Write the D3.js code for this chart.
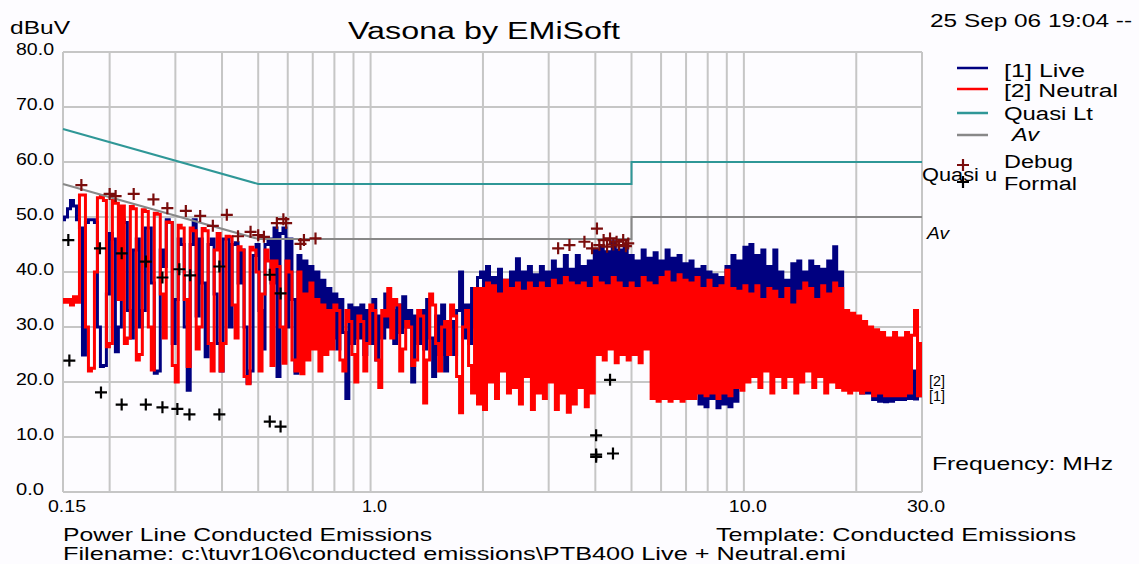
<!DOCTYPE html>
<html>
<head>
<meta charset="utf-8">
<title>Vasona by EMiSoft</title>
<script src="https://d3js.org/d3.v7.min.js"></script>
<style>
    body { margin: 0; background: #fdfcff; }
    svg { display: block; }
    text { font-family: "Liberation Sans", Arial, sans-serif; fill: #000; }
    .grid line { stroke: #c6c6c6; stroke-width: 2; }
    .trace { fill: none; stroke-width: 3; stroke-linejoin: miter; }
    .limit { fill: none; stroke-width: 2; }
    .mark { fill: none; stroke-width: 2.2; }
</style>
</head>
<body>
<div id="chart"></div>
<script>
    // sweep columns, one reading per screen column from 0.15 to 30 MHz
    var N = 288;
    var freqs = d3.range(N).map(i => 0.15 * Math.pow(200, i / (N - 1)));

    // [1] Live, dBuV per column
    var live = [
        49.5, 50, 51.5, 53, 52, 49.5, 48, 24.9, 49, 49.5,
        49.5, 49, 30, 22.8, 23, 36, 47, 46, 25.5, 30,
        49.5, 49, 33, 28, 44, 46, 30, 33, 48, 48,
        38, 21.6, 22, 44, 41, 49.5, 49, 27, 35, 46,
        45, 30, 18.5, 45, 49.5, 32, 46, 38, 24.6, 45,
        46, 36, 27, 22, 46, 46, 30, 45, 45.3, 38,
        44, 30, 19.8, 22, 43, 45, 33, 26, 45, 46,
        38, 48, 21, 47, 48, 30, 46, 35, 21.6, 43,
        30, 42, 29, 41, 28, 40, 30, 38.5, 27.6, 37,
        28, 36, 26, 35, 29, 17, 34, 27, 33.5, 28,
        34, 25, 33, 27, 35, 24, 32, 28, 36, 30,
        33, 27, 34, 29, 35.5, 30, 33, 20, 32, 27,
        33, 26, 35, 28, 21, 32, 25, 34, 22, 30,
        31, 25, 33, 40, 28, 34, 27, 37, 30, 39,
        40, 30, 41, 28, 39, 31, 40.5, 29, 38.5, 30,
        40, 29, 42.4, 31, 40, 28, 41, 30, 39.5, 29,
        41, 30, 40, 28, 42, 31, 40.5, 29, 43, 30,
        40.5, 29, 43, 31, 41, 30, 42, 29, 44, 32,
        44.5, 33, 43.7, 31, 45.5, 32, 44, 33, 45, 31,
        43, 32, 42, 30, 44, 31, 42.5, 29, 43.5, 30,
        42, 30, 44, 31, 42.5, 29, 43, 30, 41.5, 31,
        42, 30, 40.5, 16, 41, 15.5, 40, 17, 39.5, 15.3,
        39, 16, 41, 15.5, 43, 16.5, 42, 29, 44.5, 30,
        45, 31, 43, 30, 44, 29, 41, 31, 44, 30,
        40, 29, 38.5, 30, 41.5, 29, 42, 31, 40, 30,
        42, 30, 41, 29, 40.5, 31, 42, 30, 44.6, 31,
        40, 24, 30, 20, 29, 19, 28, 18, 29, 18,
        25, 16.8, 24, 16.5, 23, 16.4, 24, 16.5, 22, 16.8,
        24, 16.8, 23, 17, 22, 16.9, 17.5, 17.5
    ];

    // [2] Neutral, dBuV per column
    var neutral = [
        35, 34.5, 35, 34, 35.5, 34.5, 54, 54, 30, 22,
        22.5, 40, 53.5, 53.8, 53, 26.4, 27, 53, 52.5, 35,
        52, 27, 28, 51.9, 51.5, 24, 25, 51.3, 51, 30,
        22.2, 50.7, 50.5, 36, 28, 49.1, 49, 23, 20, 48.5,
        48, 35, 22.8, 48, 47.5, 26, 30, 47.9, 47.5, 27,
        22, 44, 47, 22, 27, 46.5, 46.4, 34, 28, 44.6,
        44, 21, 19.7, 44.5, 44, 40, 22, 36, 44, 42,
        23, 42, 41, 30, 23.4, 42, 40, 24, 22, 40,
        21.5, 36, 24, 38, 26, 35, 22, 34, 25, 33,
        26, 34, 33, 24, 22, 33, 31, 25, 20, 32,
        31, 22, 27, 34, 33, 24, 19, 33, 32, 37,
        28, 35, 34, 22, 26, 31, 30, 23, 24, 33,
        32, 16.2, 24, 36, 34, 27, 22, 30, 31, 25,
        34, 32, 21, 14.4, 30, 33, 23, 18, 37, 16,
        37, 15, 38, 20, 37.5, 17, 36, 22, 38.5, 18,
        37, 19, 38, 16, 36.5, 21, 38, 15, 37, 18,
        38, 17, 37, 20, 38.5, 15, 37.5, 18, 39, 14.5,
        38, 16, 37.5, 19, 38, 15.5, 37, 18, 39, 25,
        38, 24, 37.5, 26, 39, 23.5, 38, 25, 37, 24,
        38, 25, 37, 23.5, 39, 26, 38, 17, 37.5, 16.5,
        39, 17, 40, 16.5, 38, 17, 39.5, 16.5, 38.5, 17,
        38, 17, 39, 18, 37, 17.5, 38.5, 18, 37, 17,
        37.5, 18, 40.3, 17.5, 37, 19, 36.5, 18.5, 37.5, 20,
        36, 21, 37.5, 19, 35, 22, 37, 18, 36.5, 21,
        35, 19, 37, 21, 34, 18, 36.5, 20, 38, 22,
        37, 19, 35, 21, 37.5, 18, 36, 20, 38, 19,
        37, 18.5, 33, 18, 32.5, 18.5, 32, 18, 31, 18.5,
        30, 17.5, 29.5, 18, 29, 17.5, 28, 17.5, 29, 17.5,
        28, 17.5, 29, 18, 28.5, 33, 17.5, 27
    ];

    // limit lines
    var limitFreqs = [0.15, 0.5, 5, 5, 30];
    var quasiLimit = [66, 56, 56, 60, 60];
    var avLimit = [56, 46, 46, 50, 50];

    // marker readings
    var debugFreqs = [0.168, 0.200, 0.2075, 0.232, 0.262, 0.2855, 0.320, 0.3496, 0.378, 0.412,
        0.4415, 0.477, 0.500, 0.518, 0.561, 0.584, 0.594, 0.649, 0.663, 0.712,
        3.18, 3.41, 3.74, 3.92, 4.04, 4.10, 4.21, 4.30, 4.38, 4.47, 4.56, 4.63, 4.75, 4.83, 4.90];
    var debugLevels = [55.8, 54.2, 53.8, 54.2, 53.2, 51.6, 51.1, 50.2, 48.4, 50.4,
        46.5, 47.3, 46.7, 46.4, 48.9, 49.6, 48.9, 45.1, 45.8, 46.1,
        44.3, 44.9, 45.5, 44.3, 47.9, 44.9, 45.8, 44.6, 46.1, 45.0, 45.5, 44.9, 45.8, 44.7, 45.2];
    var formalFreqs = [0.155, 0.1884, 0.2154, 0.250, 0.277, 0.3074, 0.3285, 0.3935, 0.537, 0.574,
        0.156, 0.1896, 0.2154, 0.250, 0.277, 0.3037, 0.3272, 0.3935, 0.537, 0.574,
        4.02, 4.02, 4.02, 4.46, 4.38];
    var formalLevels = [45.8, 44.3, 43.4, 41.9, 39.0, 40.5, 39.4, 41.0, 39.5, 36.1,
        23.9, 18.1, 15.9, 15.9, 15.4, 15.1, 14.1, 14.1, 12.8, 11.9,
        10.3, 6.8, 6.4, 7.0, 20.4];

    var xTicks = [0.15, 1, 10, 30];
    var xTickLabels = ["0.15", "1.0", "10.0", "30.0"];
    var yTicks = [0, 10, 20, 30, 40, 50, 60, 70, 80];
    var gridFreqs = [0.15, 0.2, 0.3, 0.4, 0.5, 0.6, 0.7, 0.8, 0.9, 1, 2, 3, 4, 5, 6, 7, 8, 9, 10, 20, 30];

    var svg = d3.select("#chart").append("svg")
        .attr("width", 1139)
        .attr("height", 564);

    var x = d3.scaleLog().domain([0.15, 30]).range([63, 922]);
    var y = d3.scaleLinear().domain([0, 80]).range([492, 52]);

    function label(txt, px, py, size, width, anchor) {
        var t = svg.append("text")
            .attr("x", px)
            .attr("y", py)
            .attr("text-anchor", anchor || "start")
            .style("font-size", size + "px")
            .text(txt);
        if (width) t.attr("textLength", width).attr("lengthAdjust", "spacingAndGlyphs");
        return t;
    }

    // grid
    var grid = svg.append("g").attr("class", "grid");
    grid.selectAll(".v").data(gridFreqs).enter().append("line")
        .attr("x1", d => x(d)).attr("x2", d => x(d))
        .attr("y1", y(80)).attr("y2", y(0));
    grid.selectAll(".h").data(yTicks).enter().append("line")
        .attr("x1", x(0.15)).attr("x2", x(30))
        .attr("y1", d => y(d)).attr("y2", d => y(d));

    // traces
    var trace = d3.line()
        .x((d, i) => x(freqs[i]))
        .y(d => y(d))
        .curve(d3.curveStep);

    svg.append("path").attr("class", "trace").attr("stroke", "#000080").attr("d", trace(live));
    svg.append("path").attr("class", "trace").attr("stroke", "#ff0000").attr("d", trace(neutral));

    // limits
    var limit = d3.line().x((d, i) => x(limitFreqs[i])).y(d => y(d));
    svg.append("path").attr("class", "limit").attr("stroke", "#2f9797").attr("d", limit(quasiLimit));
    svg.append("path").attr("class", "limit").attr("stroke", "#888888").attr("d", limit(avLimit));

    // markers
    var plus = "M-6,0H6M0,-6V6";
    svg.selectAll(".debug").data(debugFreqs).enter().append("path")
        .attr("class", "mark")
        .attr("stroke", "#7a0c0c")
        .attr("d", plus)
        .attr("transform", (d, i) => "translate(" + x(d) + "," + y(debugLevels[i]) + ")");
    svg.selectAll(".formal").data(formalFreqs).enter().append("path")
        .attr("class", "mark")
        .attr("stroke", "#000")
        .attr("d", plus)
        .attr("transform", (d, i) => "translate(" + x(d) + "," + y(formalLevels[i]) + ")");

    // axis labels
    yTicks.forEach(v => {
        var s = v.toFixed(1);
        label(s, 16, y(v) + 3, 17, s.length === 4 ? 38 : 28);
    });
    xTicks.forEach((v, i) => {
        var s = xTickLabels[i];
        label(s, x(v) + 4, 512, 17, s.length === 4 ? 38 : 25, "middle");
    });

    // headings
    label("dBuV", 10, 34, 19, 60);
    label("Vasona by EMiSoft", 348, 39, 23, 272);
    label("25 Sep 06 19:04 --", 930, 27, 19, 202);
    label("Frequency: MHz", 932, 470, 19, 181);
    label("Power Line Conducted Emissions", 63, 541, 19, 369);
    label("Template: Conducted Emissions", 716, 541, 19, 360);
    label("Filename: c:\\tuvr106\\conducted emissions\\PTB400 Live + Neutral.emi", 63, 560, 19, 783);

    // right-edge trace labels
    label("Quasi u", 922, 181, 18, 75);
    label("Av", 927, 239, 17, 22).style("font-style", "italic");
    label("[2]", 929, 386, 14, 16);
    label("[1]", 929, 401, 14, 16);

    // legend
    var legendItems = [
        { name: "[1] Live", color: "#000080", ly: 68, ty: 77, w: 81 },
        { name: "[2] Neutral", color: "#ff0000", ly: 89, ty: 97, w: 114 },
        { name: "Quasi Lt", color: "#2f9797", ly: 113, ty: 120, w: 89 },
        { name: " Av", color: "#888888", ly: 135, ty: 141, w: 36 }
    ];
    legendItems.forEach(d => {
        svg.append("line")
            .attr("x1", 957).attr("x2", 988)
            .attr("y1", d.ly).attr("y2", d.ly)
            .attr("stroke", d.color).attr("stroke-width", 2.5);
        var t = label(d.name, 1004, d.ty, 18, d.w);
        if (d.name === " Av") t.style("font-style", "italic").attr("x", 1012).attr("textLength", 27);
    });
    label("Debug", 1004, 168, 18, 69);
    label("Formal", 1004, 190, 18, 73);
    svg.append("path").attr("class", "mark").attr("stroke", "#7a0c0c").attr("d", plus)
        .attr("transform", "translate(963,165)");
    svg.append("path").attr("class", "mark").attr("stroke", "#000").attr("d", plus)
        .attr("transform", "translate(963,182)");
</script>
</body>
</html>
